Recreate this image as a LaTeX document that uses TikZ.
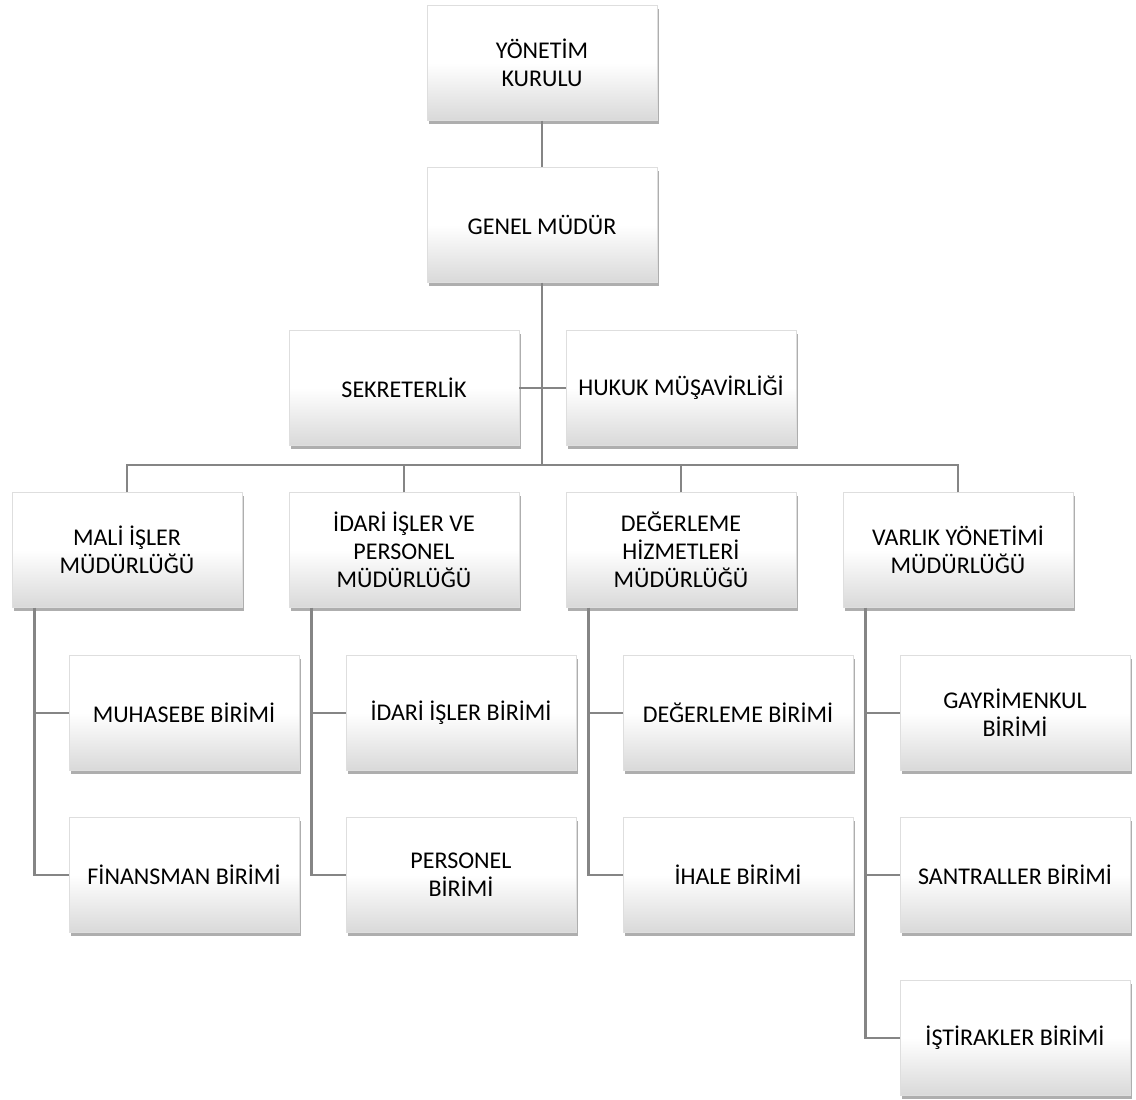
\documentclass[tikz,border=0pt]{standalone}
\usepackage{fontspec}
\setmainfont{Carlito}
\usetikzlibrary{shadows, positioning}

\pgfdeclareverticalshading{boxshade}{100bp}{color(0bp)=(black!15); color(25bp)=(black!15); color(50bp)=(white); color(100bp)=(white)}

\tikzset{
  unitbox/.style={rectangle, draw=black!13, line width=0.6pt, align=center,
    minimum width=172.5pt, minimum height=86pt, inner sep=2pt,
    shading=boxshade,
    drop shadow={shadow xshift=1.5pt, shadow yshift=-2.5pt, opacity=0.45, fill=black!70},
    font=\fontsize{18}{21}\selectfont},
  conn/.style={draw=black!48, line width=2.2pt}
}

\begin{document}
\begin{tikzpicture}[x=0.75pt, y=-0.75pt]
    \useasboundingbox (0,0) rectangle (1136,1100);

    % top of the chart
    \node[unitbox] (yk)  at (542, 63)  {YÖNETİM\\KURULU};
    \node[unitbox] (gm)  at (542, 225) {GENEL MÜDÜR};
    \node[unitbox] (sek) at (404, 388) {SEKRETERLİK};
    \node[unitbox] (huk) at (681, 388) {HUKUK MÜŞAVİRLİĞİ};

    % directorates
    \node[unitbox] (mali)  at (127, 550) {MALİ İŞLER\\MÜDÜRLÜĞÜ};
    \node[unitbox] (idari) at (404, 550) {İDARİ İŞLER VE\\PERSONEL\\MÜDÜRLÜĞÜ};
    \node[unitbox] (deg)   at (681, 550) {DEĞERLEME\\HİZMETLERİ\\MÜDÜRLÜĞÜ};
    \node[unitbox] (var)   at (958, 550) {VARLIK YÖNETİMİ\\MÜDÜRLÜĞÜ};

    % units
    \node[unitbox] (muh) at (184, 713) {MUHASEBE BİRİMİ};
    \node[unitbox] (fin) at (184, 875) {FİNANSMAN BİRİMİ};
    \node[unitbox] (ib)  at (461, 713) {İDARİ İŞLER BİRİMİ};
    \node[unitbox] (per) at (461, 875) {PERSONEL\\BİRİMİ};
    \node[unitbox] (db)  at (738, 713) {DEĞERLEME BİRİMİ};
    \node[unitbox] (ih)  at (738, 875) {İHALE BİRİMİ};
    \node[unitbox] (gay) at (1015, 713) {GAYRİMENKUL\\BİRİMİ};
    \node[unitbox] (san) at (1015, 875) {SANTRALLER BİRİMİ};
    \node[unitbox] (ist) at (1015, 1038) {İŞTİRAKLER BİRİMİ};

    \coordinate (bus) at (542, 465);

    \path[conn]
    (yk) -- (gm)
    (gm.south) -- (bus)
    (sek.east) -- (huk.west);
    \foreach \d in {mali, idari, deg, var}
        \path[conn] (\d.north) |- (bus);

    \path[conn]
    ([xshift=17pt]mali.south west) |- (muh.west)
    ([xshift=17pt]mali.south west) |- (fin.west)
    ([xshift=17pt]idari.south west) |- (ib.west)
    ([xshift=17pt]idari.south west) |- (per.west)
    ([xshift=17pt]deg.south west) |- (db.west)
    ([xshift=17pt]deg.south west) |- (ih.west)
    ([xshift=17pt]var.south west) |- (gay.west)
    ([xshift=17pt]var.south west) |- (san.west)
    ([xshift=17pt]var.south west) |- (ist.west);
\end{tikzpicture}
\end{document}
